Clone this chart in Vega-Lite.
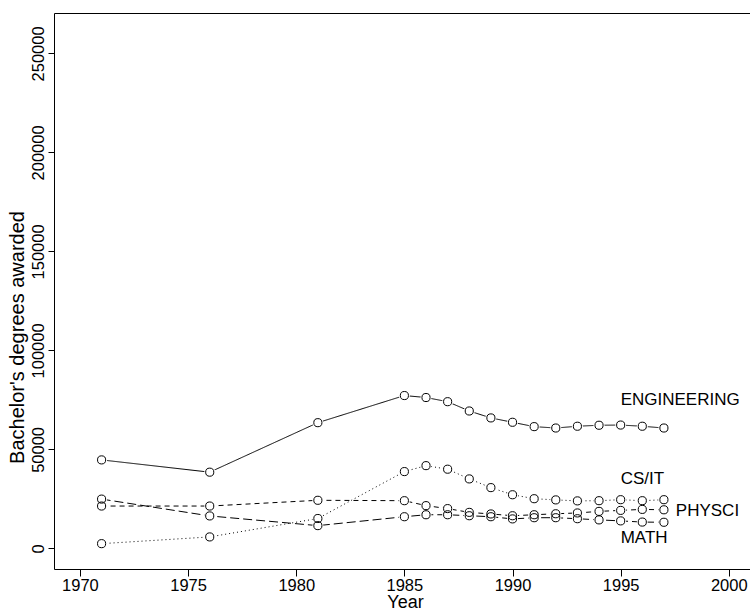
{
  "$schema": "https://vega.github.io/schema/vega-lite/v6.json",
  "width": 696,
  "height": 556,
  "autosize": "none",
  "padding": {"left": 54, "top": 13, "right": 0, "bottom": 42},
  "background": "white",
  "config": {
    "view": {"stroke": null},
    "font": "Liberation Sans",
    "axis": {
      "grid": false,
      "domainColor": "black",
      "tickColor": "black",
      "labelColor": "black",
      "titleColor": "black",
      "labelFont": "Liberation Sans",
      "titleFont": "Liberation Sans",
      "labelFontSize": 16.5,
      "titleFontSize": 20,
      "titleFontWeight": "normal",
      "domainWidth": 1,
      "tickWidth": 1
    }
  },
  "datasets": {
    "series": [
      {"field": "ENGINEERING", "year": 1971, "value": 44700},
      {"field": "ENGINEERING", "year": 1976, "value": 38500},
      {"field": "ENGINEERING", "year": 1981, "value": 63500},
      {"field": "ENGINEERING", "year": 1985, "value": 77200},
      {"field": "ENGINEERING", "year": 1986, "value": 76200},
      {"field": "ENGINEERING", "year": 1987, "value": 74100},
      {"field": "ENGINEERING", "year": 1988, "value": 69400},
      {"field": "ENGINEERING", "year": 1989, "value": 65900},
      {"field": "ENGINEERING", "year": 1990, "value": 63700},
      {"field": "ENGINEERING", "year": 1991, "value": 61500},
      {"field": "ENGINEERING", "year": 1992, "value": 60800},
      {"field": "ENGINEERING", "year": 1993, "value": 61700},
      {"field": "ENGINEERING", "year": 1994, "value": 62200},
      {"field": "ENGINEERING", "year": 1995, "value": 62300},
      {"field": "ENGINEERING", "year": 1996, "value": 61700},
      {"field": "ENGINEERING", "year": 1997, "value": 60800},
      {"field": "CS/IT", "year": 1971, "value": 2400},
      {"field": "CS/IT", "year": 1976, "value": 5800},
      {"field": "CS/IT", "year": 1981, "value": 15100},
      {"field": "CS/IT", "year": 1985, "value": 38800},
      {"field": "CS/IT", "year": 1986, "value": 41800},
      {"field": "CS/IT", "year": 1987, "value": 40000},
      {"field": "CS/IT", "year": 1988, "value": 35100},
      {"field": "CS/IT", "year": 1989, "value": 30700},
      {"field": "CS/IT", "year": 1990, "value": 27100},
      {"field": "CS/IT", "year": 1991, "value": 25100},
      {"field": "CS/IT", "year": 1992, "value": 24500},
      {"field": "CS/IT", "year": 1993, "value": 24000},
      {"field": "CS/IT", "year": 1994, "value": 24100},
      {"field": "CS/IT", "year": 1995, "value": 24600},
      {"field": "CS/IT", "year": 1996, "value": 24100},
      {"field": "CS/IT", "year": 1997, "value": 24600},
      {"field": "PHYSCI", "year": 1971, "value": 21400},
      {"field": "PHYSCI", "year": 1976, "value": 21400},
      {"field": "PHYSCI", "year": 1981, "value": 24300},
      {"field": "PHYSCI", "year": 1985, "value": 24100},
      {"field": "PHYSCI", "year": 1986, "value": 21600},
      {"field": "PHYSCI", "year": 1987, "value": 20100},
      {"field": "PHYSCI", "year": 1988, "value": 18200},
      {"field": "PHYSCI", "year": 1989, "value": 17400},
      {"field": "PHYSCI", "year": 1990, "value": 16500},
      {"field": "PHYSCI", "year": 1991, "value": 17000},
      {"field": "PHYSCI", "year": 1992, "value": 17500},
      {"field": "PHYSCI", "year": 1993, "value": 17900},
      {"field": "PHYSCI", "year": 1994, "value": 18700},
      {"field": "PHYSCI", "year": 1995, "value": 19200},
      {"field": "PHYSCI", "year": 1996, "value": 19700},
      {"field": "PHYSCI", "year": 1997, "value": 19500},
      {"field": "MATH", "year": 1971, "value": 24900},
      {"field": "MATH", "year": 1976, "value": 16400},
      {"field": "MATH", "year": 1981, "value": 11500},
      {"field": "MATH", "year": 1985, "value": 16000},
      {"field": "MATH", "year": 1986, "value": 17000},
      {"field": "MATH", "year": 1987, "value": 17000},
      {"field": "MATH", "year": 1988, "value": 16500},
      {"field": "MATH", "year": 1989, "value": 16000},
      {"field": "MATH", "year": 1990, "value": 14900},
      {"field": "MATH", "year": 1991, "value": 15500},
      {"field": "MATH", "year": 1992, "value": 15500},
      {"field": "MATH", "year": 1993, "value": 15000},
      {"field": "MATH", "year": 1994, "value": 14400},
      {"field": "MATH", "year": 1995, "value": 13900},
      {"field": "MATH", "year": 1996, "value": 13300},
      {"field": "MATH", "year": 1997, "value": 13200}
    ],
    "labels": [
      {"label": "ENGINEERING", "year": 1995, "value": 75000},
      {"label": "CS/IT", "year": 1995, "value": 35000},
      {"label": "PHYSCI", "year": 1997.55, "value": 19000},
      {"label": "MATH", "year": 1995, "value": 5500}
    ]
  },
  "resolve": {"axis": {"x": "independent"}},
  "layer": [
    {
      "data": {"name": "series"},
      "mark": {"type": "line", "color": "black", "strokeWidth": 1},
      "encoding": {
        "x": {
          "field": "year", "type": "quantitative",
          "scale": {"domain": [1968.8, 2000.98], "nice": false, "zero": false},
          "axis": {
            "orient": "bottom",
            "values": [1970, 1975, 1980, 1985, 1990, 1995, 2000],
            "format": "d",
            "tickSize": 7,
            "labelPadding": 1,
            "labelFlush": false,
            "labelOverlap": false,
            "title": "Year",
            "titleFontSize": 18,
            "titlePadding": 0,
            "titleX": 351
          }
        },
        "y": {
          "field": "value", "type": "quantitative",
          "scale": {"domain": [-10400, 270400], "nice": false, "zero": false},
          "axis": {
            "values": [0, 50000, 100000, 150000, 200000, 250000],
            "format": "d",
            "tickSize": 6,
            "labelAngle": -90,
            "labelAlign": "center",
            "labelBaseline": "bottom",
            "labelPadding": 2,
            "labelFlush": false,
            "labelOverlap": false,
            "title": "Bachelor's degrees awarded",
            "titlePadding": 3,
            "titleY": 324
          }
        },
        "detail": {"field": "field"},
        "strokeDash": {
          "field": "field", "type": "nominal",
          "scale": {
            "domain": ["ENGINEERING", "CS/IT", "PHYSCI", "MATH"],
            "range": [[1, 0], [1, 3], [5, 4], [9, 4]]
          },
          "legend": null
        }
      }
    },
    {
      "data": {"name": "series"},
      "mark": {"type": "point", "shape": "circle", "filled": true, "color": "white", "opacity": 1, "size": 120},
      "encoding": {
        "x": {"field": "year", "type": "quantitative", "axis": null},
        "y": {"field": "value", "type": "quantitative"}
      }
    },
    {
      "data": {"name": "series"},
      "mark": {"type": "point", "shape": "circle", "filled": false, "color": "black", "opacity": 1, "size": 66, "strokeWidth": 1},
      "encoding": {
        "x": {"field": "year", "type": "quantitative", "axis": null},
        "y": {"field": "value", "type": "quantitative"}
      }
    },
    {
      "data": {"name": "labels"},
      "mark": {"type": "text", "align": "left", "baseline": "middle", "fontSize": 17, "font": "Liberation Sans", "color": "black"},
      "encoding": {
        "x": {
          "field": "year", "type": "quantitative",
          "axis": {"orient": "top", "labels": false, "ticks": false, "title": null, "domain": true}
        },
        "y": {"field": "value", "type": "quantitative"},
        "text": {"field": "label"}
      }
    }
  ]
}
